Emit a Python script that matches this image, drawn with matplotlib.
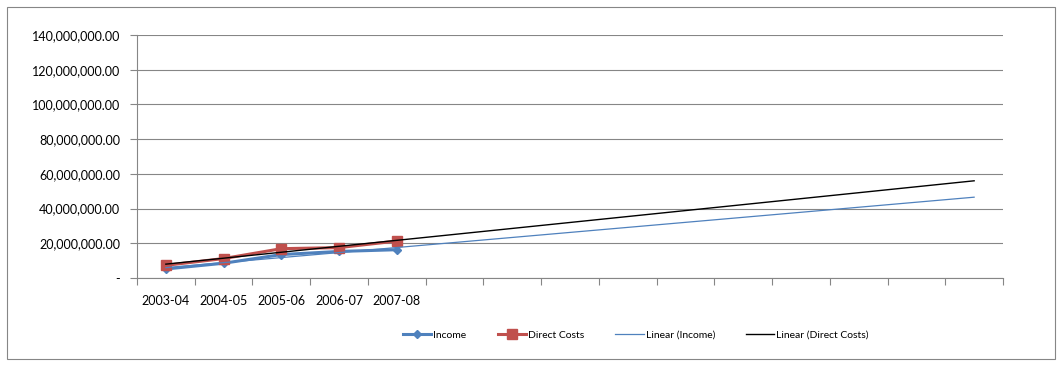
import numpy as np
import matplotlib.pyplot as plt
from matplotlib.patches import Rectangle

plt.rcParams['font.family'] = ['Lato', 'DejaVu Sans']

# datos
years = ['2003-04', '2004-05', '2005-06', '2006-07', '2007-08']
income = [5.2e6, 8.5e6, 13.5e6, 15.3e6, 16.3e6]
direct_costs = [7.3e6, 11.2e6, 16.9e6, 17.5e6, 21.3e6]
forecast_periods = 10

x = np.arange(1, len(years) + 1)
x_trend = np.arange(1, len(years) + forecast_periods + 1)

fig = plt.figure(figsize=(10.62, 3.66), dpi=100)
fig.patches.append(Rectangle((0.007, 0.02), 0.986, 0.96, transform=fig.transFigure,
                             fill=False, edgecolor='#868686', linewidth=0.8))
ax = fig.add_axes([137 / 1062, 1 - 278 / 366, 866 / 1062, 243 / 366])

# lineas de tendencia (regresion lineal, como en Excel)
p_inc = np.polyfit(x, income, 1)
p_dc = np.polyfit(x, direct_costs, 1)

ax.plot(x, income, color='#4F81BD', lw=2.2, marker='D', markersize=4.5, label='Income', zorder=3)
ax.plot(x, direct_costs, color='#C0504D', lw=2.2, marker='s', markersize=7, label='Direct Costs', zorder=3)
ax.plot(x_trend, np.polyval(p_inc, x_trend), color='#4F81BD', lw=0.9, label='Linear (Income)', zorder=4)
ax.plot(x_trend, np.polyval(p_dc, x_trend), color='black', lw=1.0, label='Linear (Direct Costs)', zorder=4)

ax.set_xlim(0.5, len(x_trend) + 0.5)
ax.set_ylim(0, 140e6)
yt = np.arange(0, 140e6 + 1, 20e6)
ax.set_yticks(yt)
ax.set_yticklabels(['-'] + ['{:,.2f}'.format(v) for v in yt[1:]])
ax.yaxis.grid(True, color='#868686', lw=0.8)
ax.set_axisbelow(True)

# marcas entre categorias, etiquetas solo para los anos con datos
ax.set_xticks(np.arange(0.5, len(x_trend) + 1, 1))
ax.set_xticklabels([])
ax.set_xticks(x, minor=True)
ax.set_xticklabels(years, minor=True)
ax.tick_params(axis='x', which='minor', length=0, pad=12)
ax.tick_params(axis='x', which='major', length=5, color='#868686')
ax.tick_params(axis='y', length=5, color='#868686', pad=7)
ax.tick_params(which='both', labelsize=9)

for s in ['top', 'right']:
    ax.spines[s].set_visible(False)
for s in ['left', 'bottom']:
    ax.spines[s].set_color('#868686')

fig.legend(loc='center', bbox_to_anchor=(636 / 1062, 1 - 335 / 366), ncol=4, frameon=False,
           fontsize=7.5, handlelength=2.7, handletextpad=0.2, columnspacing=3)

plt.savefig('out.png', dpi=100)
